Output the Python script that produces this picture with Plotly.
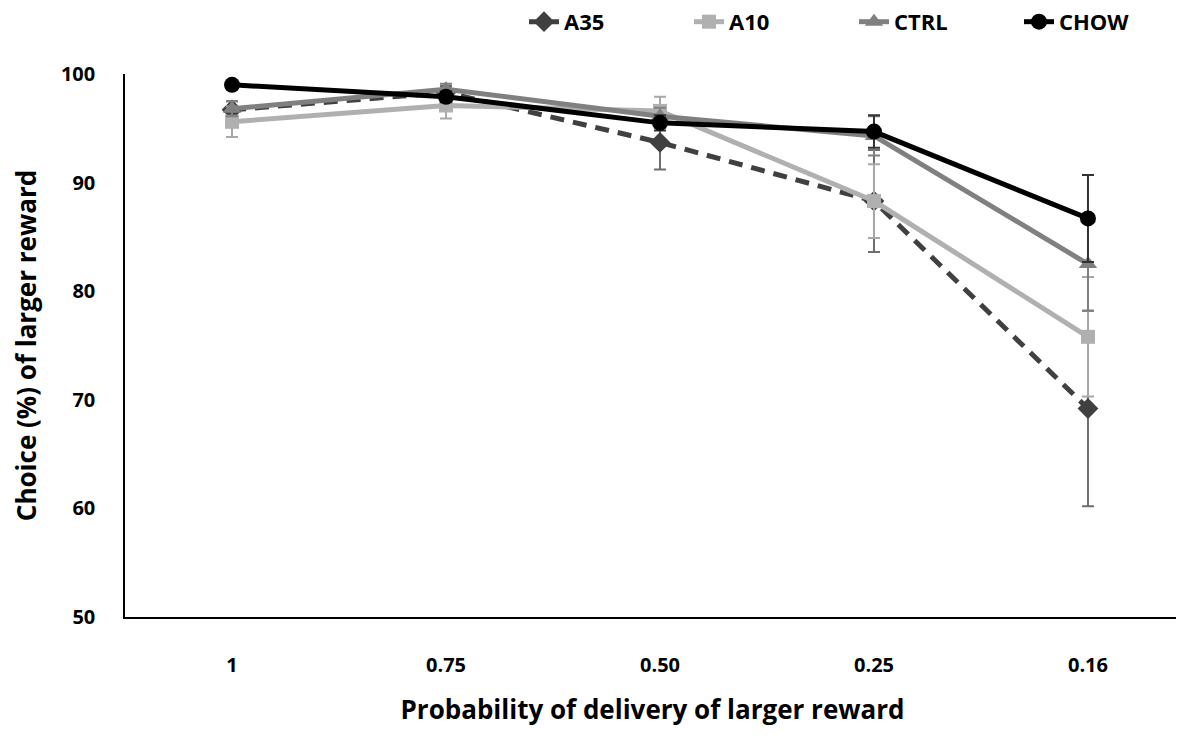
import plotly.graph_objects as go

categories = ["1", "0.75", "0.50", "0.25", "0.16"]

a35 = [96.7, 98.3, 93.7, 88.3, 69.2]
a35_err = [0.8, 0.6, 2.5, 4.7, 9.0]
a10 = [95.6, 97.1, 96.6, 88.3, 75.8]
a10_err = [1.4, 1.2, 1.3, 3.4, 5.5]
ctrl = [96.8, 98.6, 96.1, 94.3, 82.5]
ctrl_err = [0.7, 0.5, 0.8, 1.8, 4.3]
chow = [99.0, 97.9, 95.5, 94.7, 86.7]
chow_err = [0.4, 0.5, 0.7, 1.5, 4.0]

FONT = "Open Sans"

fig = go.Figure()

def add(name, y, err, color, ecolor, symbol, dash, msize):
    fig.add_trace(go.Scatter(
        x=categories, y=y, name=name, mode="lines+markers",
        line=dict(color=color, width=5, dash=dash),
        marker=dict(symbol=symbol, size=msize, color=color),
        error_y=dict(type="data", array=err, visible=True, color=ecolor,
                     thickness=2, width=6),
    ))

add("A35", a35, a35_err, "#404040", "#6e6e6e", "diamond", "14px,9px", 16)
add("A10", a10, a10_err, "#b0b0b0", "#a8a8a8", "square", "solid", 14)
add("CTRL", ctrl, ctrl_err, "#808080", "#808080", "triangle-up", "solid", 16)
add("CHOW", chow, chow_err, "#000000", "#333333", "circle", "solid", 16)

fig.update_layout(
    width=1176, height=731,
    margin=dict(l=117, r=4, t=66, b=122),
    paper_bgcolor="white", plot_bgcolor="white",
    font=dict(family=FONT, color="black"),
    showlegend=True,
    legend=dict(orientation="h", x=1, xref="container", xanchor="right",
                y=0.981, yref="container", yanchor="middle",
                font=dict(size=22, family=FONT, weight="bold"),
                traceorder="normal", itemwidth=30, entrywidth=120),
    xaxis=dict(
        type="category", range=[-0.5, 4.43], automargin=False,
        showline=True, linecolor="black", linewidth=1.5,
        showgrid=False, zeroline=False, ticks="",
        ticklabelstandoff=29,
        tickfont=dict(size=20, family=FONT, weight="bold"),
        title=dict(text="Probability of delivery of larger reward",
                   font=dict(size=26, family=FONT, weight="bold"), standoff=24),
    ),
    yaxis=dict(
        range=[50, 100], tick0=50, dtick=10, automargin=False,
        showline=True, linecolor="black", linewidth=1.5,
        showgrid=False, zeroline=False, ticks="",
        ticklabelstandoff=24,
        tickfont=dict(size=20, family=FONT, weight="bold"),
        title=dict(text="Choice (%) of larger reward",
                   font=dict(size=26, family=FONT, weight="bold"), standoff=22),
    ),
)

fig.write_html("out.html")
